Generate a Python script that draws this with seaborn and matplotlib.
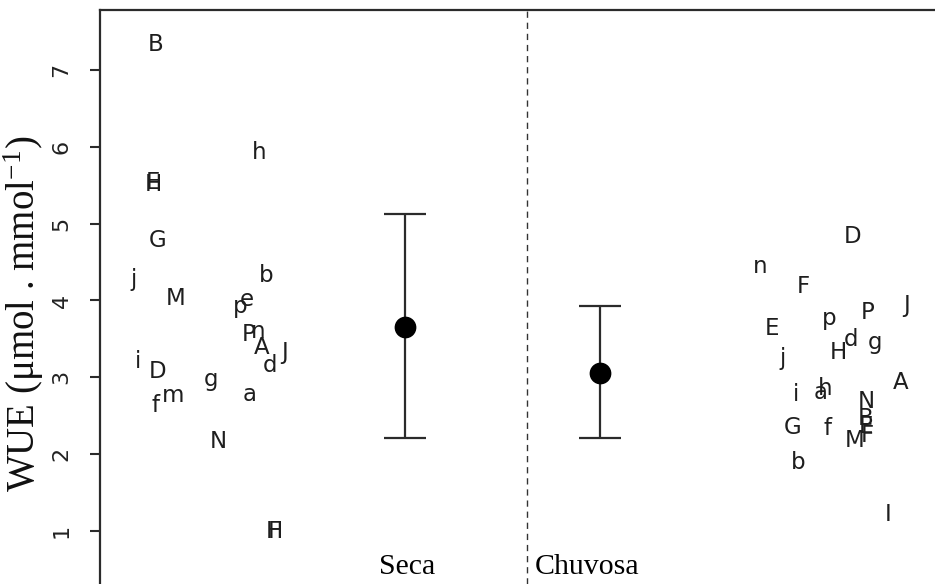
import matplotlib
matplotlib.use("Agg")
import matplotlib.pyplot as plt
import seaborn as sns
import pandas as pd

# ---- data -------------------------------------------------------------
seca_labels = ["B", "E", "H", "h", "G", "j", "M", "b", "e", "p", "P", "n",
               "A", "J", "d", "i", "D", "g", "a", "m", "f", "N", "F", "H"]
seca_x = [156, 153, 153, 259, 158, 134, 176, 266, 247, 240, 249, 258,
          262, 285, 270, 138, 158, 211, 250, 173, 155, 218, 274, 274]
seca_wue = [7.33, 5.54, 5.51, 5.92, 4.78, 4.27, 4.03, 4.32, 4.01, 3.92, 3.56, 3.60,
            3.39, 3.32, 3.15, 3.20, 3.08, 2.97, 2.77, 2.76, 2.63, 2.17, 0.99, 0.99]

chuv_labels = ["D", "n", "F", "E", "p", "P", "J", "d", "g", "j", "H", "i",
               "a", "h", "A", "N", "B", "E", "F", "M", "G", "f", "b", "I"]
chuv_x = [853, 760, 803, 772, 829, 868, 907, 851, 875, 783, 838, 796,
          821, 825, 901, 866, 866, 866, 867, 855, 793, 827, 798, 888]
chuv_wue = [4.83, 4.44, 4.18, 3.64, 3.77, 3.85, 3.94, 3.49, 3.45, 3.25, 3.32, 2.77,
            2.80, 2.86, 2.93, 2.68, 2.47, 2.36, 2.24, 2.18, 2.35, 2.34, 1.885, 1.22]

groups = ["Seca", "Chuvosa"]
group_x = [405, 600]
group_label_x = [407, 587]
means = [3.655, 3.056]
lower = [2.21, 2.21]
upper = [5.13, 3.93]
yticks = [1, 2, 3, 4, 5, 6, 7]

# ---- style ------------------------------------------------------------
sns.set_theme(style="white")
plt.rcParams["font.family"] = ["DejaVu Sans"]
plt.rcParams["mathtext.fontset"] = "stix"

fig = plt.figure(figsize=(9.35, 5.84), dpi=100)
ax = fig.add_axes([100 / 935, 0, 835 / 935, 574 / 584])

ink = "#2b2b2b"

# letters (individual observations)
for labs, xs, ys in [(seca_labels, seca_x, seca_wue), (chuv_labels, chuv_x, chuv_wue)]:
    for l, x, y in zip(labs, xs, ys):
        ax.text(x, y, l, ha="center", va="center", fontsize=16.5,
                color="#1e1e1e", family="DejaVu Sans")

# means with range bars
df = pd.DataFrame({"grupo": groups, "x": group_x, "media": means})
ax.errorbar(group_x, means,
            yerr=[[m - lo for m, lo in zip(means, lower)],
                  [hi - m for m, hi in zip(means, upper)]],
            fmt="none", ecolor=ink, elinewidth=1.6, capsize=15, capthick=1.6, zorder=2)
sns.scatterplot(data=df, x="x", y="media", s=210, color="black",
                edgecolor="black", ax=ax, zorder=3, legend=False)

# divider
ax.axvline(527, color="#333333", lw=1.0, ls=(0, (4.5, 3.5)))

# group labels
for g, gx in zip(groups, group_label_x):
    ax.text(gx, 0.53, g, ha="center", va="center", fontsize=21.5,
            family="Liberation Serif", color="black")

ax.set_xlim(100, 935)
ax.set_ylim(0.31, 7.781)
ax.set_yticks(yticks)
ax.set_yticklabels([str(t) for t in yticks], rotation=90, va="center",
                   fontsize=16, color="#222222")
ax.set_xticks([])
ax.tick_params(axis="y", left=True, length=7.5, width=1.5, color=ink, pad=13)
ax.set_xlabel("")
ax.set_ylabel("WUE (μmol . mmol$^{\\mathregular{-1}}$)", family="Liberation Serif",
              fontsize=28, color="#111111")
ax.yaxis.set_label_coords(-(100 - 46) / 835, 0.472)

for side in ["right", "bottom"]:
    ax.spines[side].set_visible(False)
for side in ["left", "top"]:
    ax.spines[side].set_color(ink)
    ax.spines[side].set_linewidth(1.6)

fig.savefig("out.png", dpi=100)
